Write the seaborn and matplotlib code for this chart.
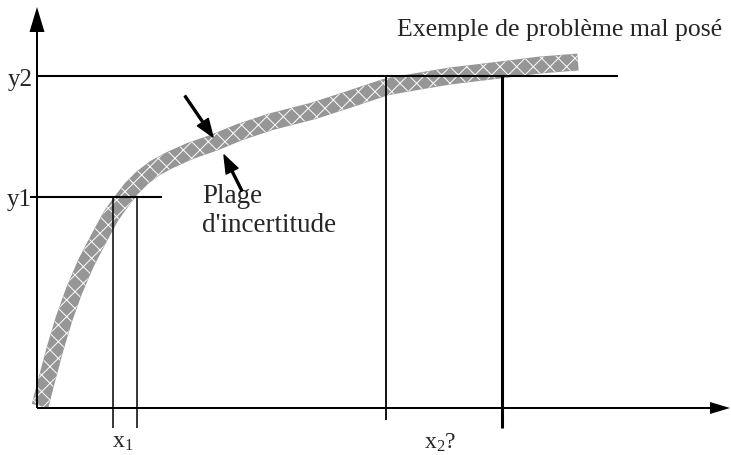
import numpy as np
import pandas as pd
import matplotlib
matplotlib.use('Agg')
import matplotlib.pyplot as plt
import seaborn as sns

curve_x = [3, 10, 18, 27, 37, 49, 62, 74, 84, 94, 105, 118, 133, 153, 176,
           203, 233, 276, 313, 349, 383, 413, 463, 503, 541]
curve_y = [2, 29, 59, 89, 117, 145, 170, 192, 206, 219, 230, 240, 248, 257, 265,
           276, 286, 297, 309, 321, 327, 332, 338, 343, 346]

# niveaux mesures et plages de x correspondantes
y_levels = [211, 332]
y_labels = ['y1', 'y2']
x1_bounds = [76, 100]
x2_bounds = [349, 465]
x_labels = [r'$\mathrm{x}_1$', r'$\mathrm{x}_2$?']

title = 'Exemple de problème mal posé'
band_label = "Plage\nd'incertitude"

sns.set_theme(style='white')
plt.rcParams['font.family'] = ['Liberation Serif', 'DejaVu Serif']
plt.rcParams['mathtext.fontset'] = 'custom'
plt.rcParams['mathtext.rm'] = 'Liberation Serif'
plt.rcParams['mathtext.it'] = 'Liberation Serif:italic'
plt.rcParams['hatch.linewidth'] = 0.7

fig = plt.figure(figsize=(7.31, 4.56), dpi=100)
ax = fig.add_axes([0, 0, 1, 1])
ax.set_xlim(-37, 694)
ax.set_ylim(-47, 409)
ax.axis('off')

# bande d'incertitude
df = pd.DataFrame({'x': curve_x, 'y': curve_y})
sns.lineplot(data=df, x='x', y='y', ax=ax, color='#969696', lw=12.2,
             estimator=None, sort=False, solid_capstyle='butt', zorder=2)

# texture blanche sur la bande
cx = np.array(curve_x, dtype=float)
cy = np.array(curve_y, dtype=float)
tx, ty = np.gradient(cx), np.gradient(cy)
nrm = np.hypot(tx, ty)
nx, ny = -ty / nrm, tx / nrm
half = 8.0
px = np.concatenate([cx + nx * half, (cx - nx * half)[::-1]])
py = np.concatenate([cy + ny * half, (cy - ny * half)[::-1]])
ax.fill(px, py, facecolor='none', edgecolor='white', hatch='xx', lw=0, zorder=3)

# axes avec fleches
ax.arrow(0, 0, 0, 401, width=2, head_width=15, head_length=25,
         length_includes_head=True, color='black', lw=0, zorder=4)
ax.arrow(0, 0, 693, 0, width=2, head_width=12, head_length=20,
         length_includes_head=True, color='black', lw=0, zorder=4)

# lignes de construction
ax.hlines(y_levels[1], 0, 581, color='black', lw=1.5, zorder=4)
ax.hlines(y_levels[0], -7, 125, color='black', lw=1.5, zorder=4)
for xv in x1_bounds:
    ax.vlines(xv, -20, y_levels[0], color='black', lw=1.1, zorder=4)
ax.vlines(x2_bounds[0], -12, y_levels[1], color='black', lw=1.3, zorder=4)
ax.vlines(x2_bounds[1], -20, y_levels[1], color='black', lw=2.2, zorder=4)

# textes
ax.text(-4, y_levels[1] - 3, y_labels[1], ha='right', va='center', fontsize=18)
ax.text(-5, y_levels[0] - 2, y_labels[0], ha='right', va='center', fontsize=18)
ax.text(np.mean(x1_bounds) - 2, -34, x_labels[0], ha='center', va='center', fontsize=17)
ax.text(403, -34, x_labels[1], ha='center', va='center', fontsize=17)
ax.text(685, 379, title, ha='right', va='center', fontsize=18.5)
ax.text(165, 198, band_label, ha='left', va='center', fontsize=19.5, linespacing=1.2)

# fleches vers la bande
arrow_kw = dict(width=1.4, headwidth=9.5, headlength=13, color='black', shrink=0)
ax.annotate('', xy=(176, 271), xytext=(148, 312), arrowprops=arrow_kw)
ax.annotate('', xy=(187, 253), xytext=(205, 217), arrowprops=arrow_kw)

fig.savefig('out.png', dpi=100)
